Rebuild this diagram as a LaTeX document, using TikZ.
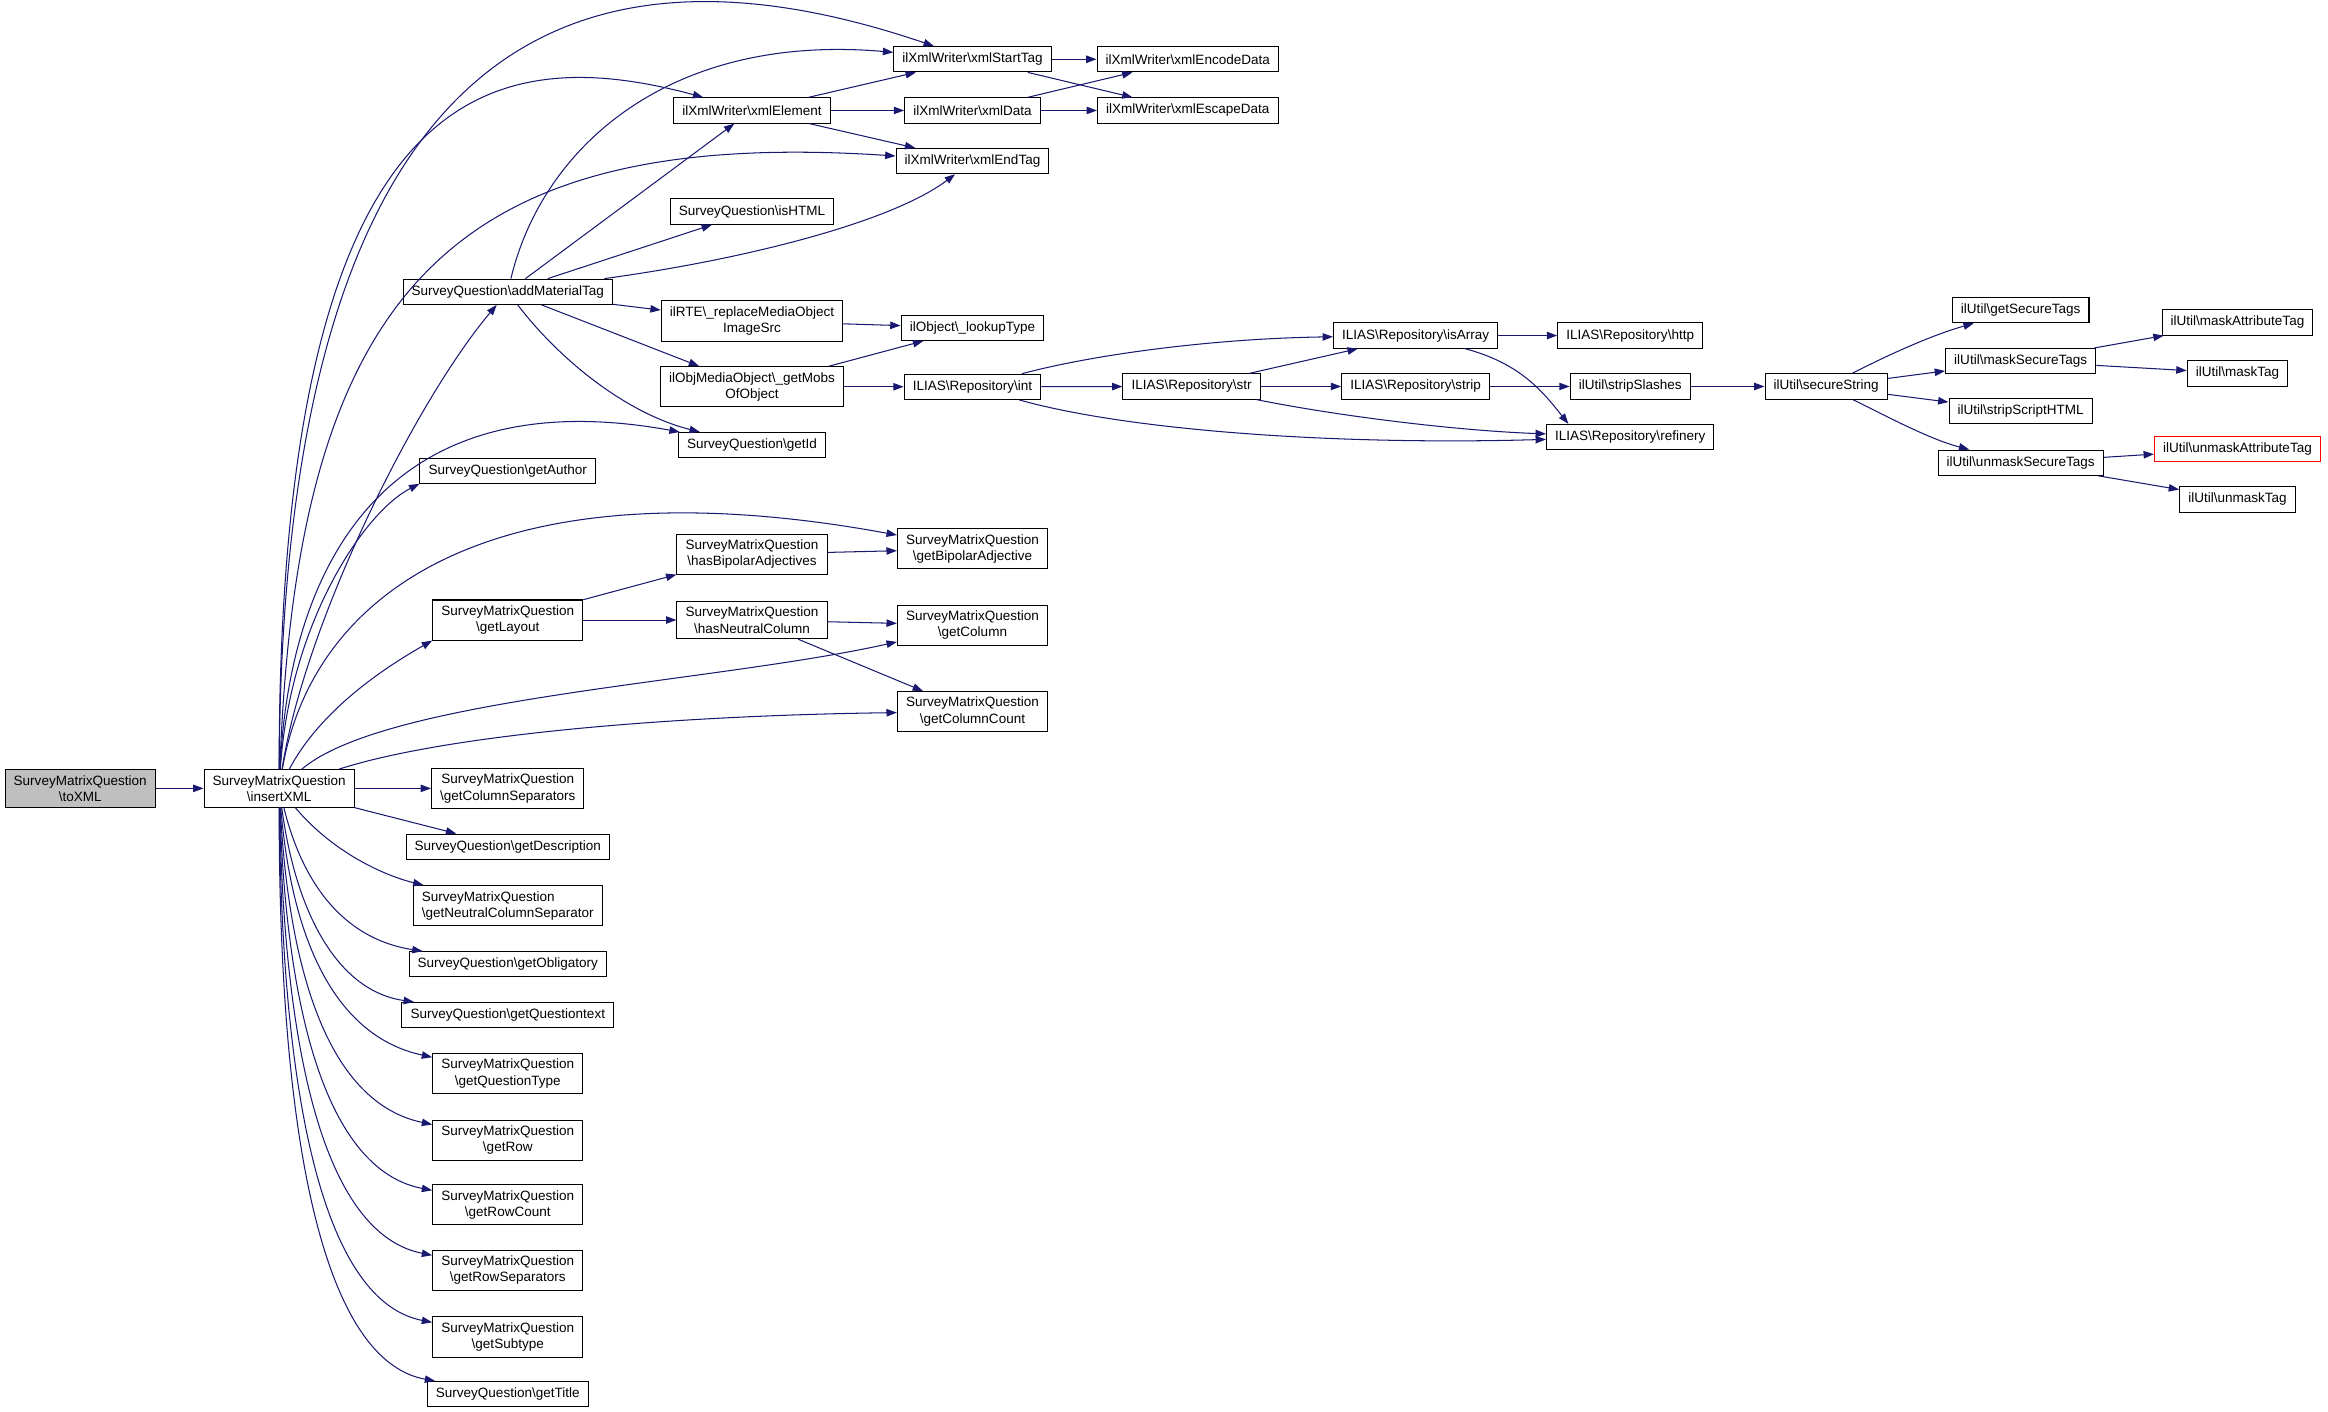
\documentclass[tikz,border=0pt]{standalone}
\usepackage{fontspec}
\setmainfont{Liberation Sans}
\usepackage{xcolor}
\usetikzlibrary{arrows.meta}
\definecolor{callblue}{RGB}{25,25,112}
\definecolor{rootgrey}{RGB}{191,191,191}
\newcommand{\bsl}{\textbackslash}

\begin{document}
\begin{tikzpicture}[x=1pt, y=-1pt,
  fn/.style={draw=black, fill=white, line width=0.7pt, align=center, inner xsep=5.8pt, inner ysep=3.75pt, minimum height=17pt, font=\fontsize{9.1}{11}\selectfont},
  root/.style={fn, fill=rootgrey},
  missing/.style={fn, draw=red},
  call/.style={draw=callblue, line width=0.7pt, -{Triangle[length=7pt,width=5pt]}}]
\fill[white] (0,0) rectangle (1568,951);
\useasboundingbox (0,0) rectangle (1568,951);

% Caller
\node[root] (toxml) at (54,531) {SurveyMatrixQuestion\\\bsl toXML};
\node[fn] (insertxml) at (188,531) {SurveyMatrixQuestion\\\bsl insertXML};

% Level 2
\node[fn] (addmaterial) at (342,196.5) {SurveyQuestion\bsl addMaterialTag};
\node[fn] (getauthor) at (342,317) {SurveyQuestion\bsl getAuthor};
\node[fn] (getlayout) at (342,417.6) {SurveyMatrixQuestion\\\bsl getLayout};
\node[fn] (getcolsep) at (342,531) {SurveyMatrixQuestion\\\bsl getColumnSeparators};
\node[fn] (getdescription) at (342,570.3) {SurveyQuestion\bsl getDescription};
\node[fn, align=left] (getneutralsep) at (342,610) {SurveyMatrixQuestion\\\bsl getNeutralColumnSeparator};
\node[fn] (getobligatory) at (342,649.5) {SurveyQuestion\bsl getObligatory};
\node[fn] (getquestiontext) at (342,683.7) {SurveyQuestion\bsl getQuestiontext};
\node[fn] (getquestiontype) at (342,723) {SurveyMatrixQuestion\\\bsl getQuestionType};
\node[fn] (getrow) at (342,768) {SurveyMatrixQuestion\\\bsl getRow};
\node[fn] (getrowcount) at (342,811.5) {SurveyMatrixQuestion\\\bsl getRowCount};
\node[fn] (getrowsep) at (342,855.5) {SurveyMatrixQuestion\\\bsl getRowSeparators};
\node[fn] (getsubtype) at (342,900.5) {SurveyMatrixQuestion\\\bsl getSubtype};
\node[fn] (gettitle) at (342,939) {SurveyQuestion\bsl getTitle};

% Level 3
\node[fn] (xmlelement) at (506.5,74.4) {ilXmlWriter\bsl xmlElement};
\node[fn] (ishtml) at (506.5,142.5) {SurveyQuestion\bsl isHTML};
\node[fn] (replacemedia) at (506.5,216.2) {ilRTE\bsl\_replaceMediaObject\\ImageSrc};
\node[fn] (getmobs) at (506.5,260.5) {ilObjMediaObject\bsl\_getMobs\\OfObject};
\node[fn] (getid) at (506.5,299.8) {SurveyQuestion\bsl getId};
\node[fn] (hasbipolar) at (506.5,373.3) {SurveyMatrixQuestion\\\bsl hasBipolarAdjectives};
\node[fn] (hasneutral) at (506.5,417.6) {SurveyMatrixQuestion\\\bsl hasNeutralColumn};

% Level 4
\node[fn] (xmlstart) at (655,39.9) {ilXmlWriter\bsl xmlStartTag};
\node[fn] (xmldata) at (655,74.4) {ilXmlWriter\bsl xmlData};
\node[fn] (xmlend) at (655,108.5) {ilXmlWriter\bsl xmlEndTag};
\node[fn] (lookuptype) at (655,220.8) {ilObject\bsl\_lookupType};
\node[fn] (repoint) at (655,260.5) {ILIAS\bsl Repository\bsl int};
\node[fn] (getbipolar) at (655,369.7) {SurveyMatrixQuestion\\\bsl getBipolarAdjective};
\node[fn] (getcolumn) at (655,421) {SurveyMatrixQuestion\\\bsl getColumn};
\node[fn] (getcolumncount) at (655,479.3) {SurveyMatrixQuestion\\\bsl getColumnCount};

% Level 5 and beyond
\node[fn] (xmlencode) at (800,39.9) {ilXmlWriter\bsl xmlEncodeData};
\node[fn] (xmlescape) at (800,74.4) {ilXmlWriter\bsl xmlEscapeData};
\node[fn] (repostr) at (802.6,260.3) {ILIAS\bsl Repository\bsl str};
\node[fn] (isarray) at (953.5,226) {ILIAS\bsl Repository\bsl isArray};
\node[fn] (repostrip) at (953.5,260.3) {ILIAS\bsl Repository\bsl strip};
\node[fn] (http) at (1098,226) {ILIAS\bsl Repository\bsl http};
\node[fn] (stripslashes) at (1098,260.3) {ilUtil\bsl stripSlashes};
\node[fn] (refinery) at (1098,294.3) {ILIAS\bsl Repository\bsl refinery};
\node[fn] (securestring) at (1230,260.3) {ilUtil\bsl secureString};
\node[fn] (getsecuretags) at (1361,208.9) {ilUtil\bsl getSecureTags};
\node[fn] (masksecuretags) at (1361,243.2) {ilUtil\bsl maskSecureTags};
\node[fn] (stripscripthtml) at (1361,277) {ilUtil\bsl stripScriptHTML};
\node[fn] (unmasksecuretags) at (1361,311.6) {ilUtil\bsl unmaskSecureTags};
\node[fn] (maskattrtag) at (1507,217.2) {ilUtil\bsl maskAttributeTag};
\node[fn] (masktag) at (1507,251.5) {ilUtil\bsl maskTag};
\node[missing] (unmaskattrtag) at (1507,302.3) {ilUtil\bsl unmaskAttributeTag};
\node[fn] (unmasktag) at (1507,336.4) {ilUtil\bsl unmaskTag};

% Calls from toXML / insertXML
\draw[call] (toxml) -- (insertxml);
\draw[call] (insertxml) .. controls (190,17) and (391,-50) .. (xmlstart);
\draw[call] (insertxml) .. controls (188,57) and (327,26) .. (xmlelement);
\draw[call] (insertxml) .. controls (200,200) and (300,85) .. (xmlend);
\draw[call] (insertxml) .. controls (205,420) and (280,270) .. (addmaterial);
\draw[call] (insertxml) .. controls (195,380) and (260,255) .. (getid);
\draw[call] (insertxml) .. controls (195,420) and (245,345) .. (getauthor.south west);
\draw[call] (insertxml) .. controls (210,400) and (330,310) .. (getbipolar);
\draw[call] (insertxml) .. controls (215,480) and (255,452) .. (getlayout.south west);
\draw[call] (insertxml) .. controls (260,470) and (480,460) .. (getcolumn);
\draw[call] (insertxml) .. controls (300,495) and (450,482) .. (getcolumncount);
\draw[call] (insertxml) -- (getcolsep);
\draw[call] (insertxml) -- (getdescription);
\draw[call] (insertxml) .. controls (225,575) and (260,590) .. (getneutralsep);
\draw[call] (insertxml) .. controls (205,600) and (235,633) .. (getobligatory);
\draw[call] (insertxml) .. controls (200,620) and (230,668) .. (getquestiontext);
\draw[call] (insertxml) .. controls (198,650) and (235,700) .. (getquestiontype);
\draw[call] (insertxml) .. controls (196,680) and (232,745) .. (getrow);
\draw[call] (insertxml) .. controls (194,710) and (230,790) .. (getrowcount);
\draw[call] (insertxml) .. controls (192,740) and (228,833) .. (getrowsep);
\draw[call] (insertxml) .. controls (190,770) and (226,878) .. (getsubtype);
\draw[call] (insertxml) .. controls (188,800) and (226,918) .. (gettitle);

% addMaterialTag
\draw[call] (addmaterial) .. controls (365,100) and (450,22) .. (xmlstart);
\draw[call] (addmaterial) -- (xmlelement);
\draw[call] (addmaterial) -- (ishtml);
\draw[call] (addmaterial) .. controls (500,175) and (600,150) .. (xmlend);
\draw[call] (addmaterial) -- (replacemedia);
\draw[call] (addmaterial) -- (getmobs);
\draw[call] (addmaterial) .. controls (375,240) and (420,278) .. (getid);

% xml writer
\draw[call] (xmlelement) -- (xmlstart);
\draw[call] (xmlelement) -- (xmldata);
\draw[call] (xmlelement) -- (xmlend);
\draw[call] (xmlstart) -- (xmlencode);
\draw[call] (xmlstart) -- (xmlescape);
\draw[call] (xmldata) -- (xmlencode);
\draw[call] (xmldata) -- (xmlescape);

% media objects and repository
\draw[call] (replacemedia) -- (lookuptype);
\draw[call] (getmobs) -- (lookuptype);
\draw[call] (getmobs) -- (repoint);
\draw[call] (repoint) .. controls (740,238) and (820,228) .. (isarray);
\draw[call] (repoint) -- (repostr);
\draw[call] (repoint) .. controls (760,290) and (900,300) .. (refinery);
\draw[call] (repostr) -- (isarray);
\draw[call] (repostr) -- (repostrip);
\draw[call] (repostr) .. controls (900,280) and (980,290) .. (refinery);
\draw[call] (isarray) -- (http);
\draw[call] (isarray) .. controls (1025,245) and (1040,265) .. (refinery.168);
\draw[call] (repostrip) -- (stripslashes);
\draw[call] (stripslashes) -- (securestring);

% secureString
\draw[call] (securestring) .. controls (1270,240) and (1300,226) .. (getsecuretags);
\draw[call] (securestring) -- (masksecuretags);
\draw[call] (securestring) -- (stripscripthtml);
\draw[call] (securestring) .. controls (1270,280) and (1300,296) .. (unmasksecuretags);
\draw[call] (masksecuretags) -- (maskattrtag);
\draw[call] (masksecuretags) -- (masktag);
\draw[call] (unmasksecuretags) -- (unmaskattrtag);
\draw[call] (unmasksecuretags) -- (unmasktag);

% layout
\draw[call] (getlayout) -- (hasbipolar);
\draw[call] (getlayout) -- (hasneutral);
\draw[call] (hasbipolar) -- (getbipolar);
\draw[call] (hasneutral) -- (getcolumn);
\draw[call] (hasneutral) -- (getcolumncount);

\end{tikzpicture}
\end{document}
